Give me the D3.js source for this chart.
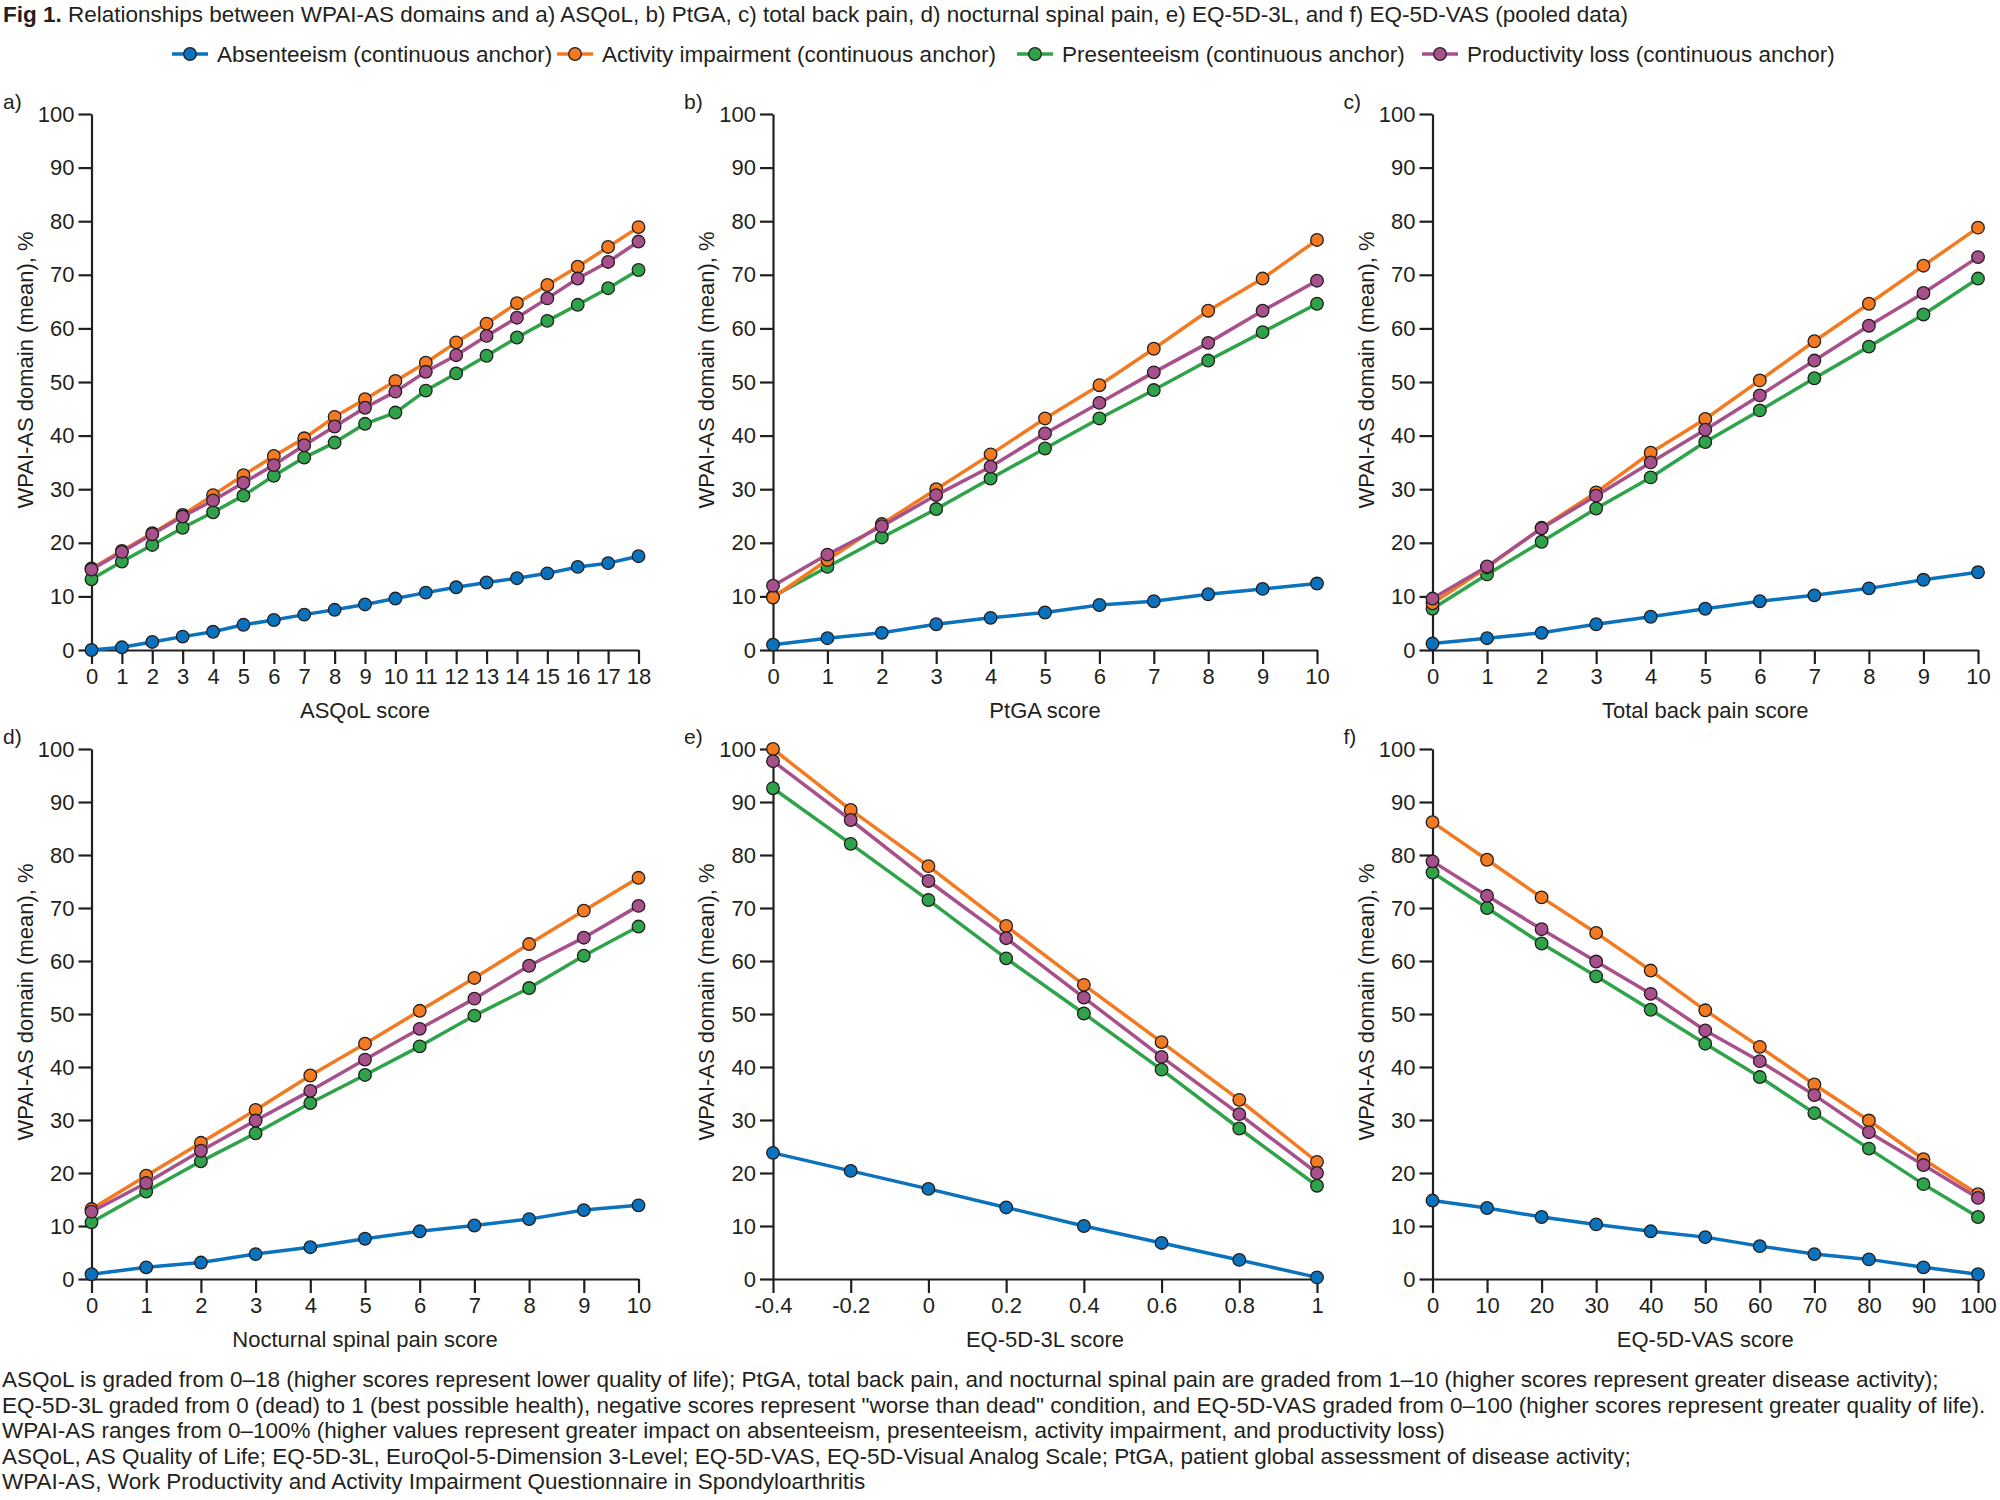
<!DOCTYPE html>
<html>
<head>
<meta charset="utf-8">
<script src="https://cdn.jsdelivr.net/npm/d3@7"></script>
<style>
  html, body { margin: 0; padding: 0; background: #fff; }
  svg { display: block; }
  text { font-family: "Liberation Sans", Arial, Helvetica, sans-serif; fill: #231f20; }
</style>
</head>
<body>
<svg id="chart" width="2000" height="1500"></svg>
<script>
// ---------------- DATA ----------------
const seriesNames = [
  "Absenteeism (continuous anchor)",
  "Activity impairment (continuous anchor)",
  "Presenteeism (continuous anchor)",
  "Productivity loss (continuous anchor)"
];
const seriesColors = ["#0b72bd", "#f47a21", "#2ea349", "#a8508b"];

const panelLabels = ["a)", "b)", "c)", "d)", "e)", "f)"];
const xTitles = ["ASQoL score", "PtGA score", "Total back pain score",
                 "Nocturnal spinal pain score", "EQ-5D-3L score", "EQ-5D-VAS score"];
const yTitle = "WPAI-AS domain (mean), %";
const yTicks = [0, 10, 20, 30, 40, 50, 60, 70, 80, 90, 100];

// a) ASQoL
const asqolX = [0,1,2,3,4,5,6,7,8,9,10,11,12,13,14,15,16,17,18];
const asqolAbs  = [0, 0.5, 1.5, 2.5, 3.4, 4.7, 5.6, 6.6, 7.5, 8.5, 9.6, 10.7, 11.7, 12.6, 13.4, 14.3, 15.5, 16.2, 17.5];
const asqolAct  = [15.2, 18.5, 21.8, 25.2, 28.9, 32.6, 36.2, 39.5, 43.5, 46.8, 50.2, 53.6, 57.4, 60.9, 64.7, 68.1, 71.5, 75.2, 78.9];
const asqolPres = [13.2, 16.5, 19.6, 22.8, 25.7, 28.8, 32.5, 35.9, 38.7, 42.2, 44.3, 48.4, 51.6, 54.9, 58.3, 61.4, 64.4, 67.5, 70.9];
const asqolProd = [15.0, 18.3, 21.6, 24.9, 27.9, 31.2, 34.5, 38.2, 41.7, 45.2, 48.2, 51.9, 55.0, 58.6, 62.0, 65.6, 69.3, 72.4, 76.2];

// b) PtGA
const ptgaX = [0,1,2,3,4,5,6,7,8,9,10];
const ptgaAbs  = [1.0, 2.2, 3.2, 4.8, 6.0, 7.0, 8.4, 9.1, 10.4, 11.4, 12.4];
const ptgaAct  = [9.8, 16.8, 23.5, 30.0, 36.5, 43.2, 49.4, 56.2, 63.3, 69.3, 76.5];
const ptgaPres = [10.0, 15.5, 21.0, 26.3, 32.0, 37.6, 43.2, 48.5, 54.0, 59.3, 64.6];
const ptgaProd = [12.0, 17.8, 23.1, 28.9, 34.2, 40.4, 46.1, 51.8, 57.3, 63.3, 68.9];

// c) Total back pain
const backX = [0,1,2,3,4,5,6,7,8,9,10];
const backAbs  = [1.2, 2.2, 3.2, 4.8, 6.2, 7.7, 9.1, 10.2, 11.5, 13.1, 14.5];
const backAct  = [8.7, 15.4, 22.8, 29.4, 36.8, 43.1, 50.3, 57.6, 64.6, 71.7, 78.8];
const backPres = [7.7, 14.1, 20.2, 26.4, 32.2, 38.8, 44.7, 50.7, 56.6, 62.6, 69.3];
const backProd = [9.6, 15.6, 22.7, 28.8, 35.0, 41.1, 47.5, 54.0, 60.5, 66.6, 73.3];

// d) Nocturnal spinal pain
const noctX = [0,1,2,3,4,5,6,7,8,9,10];
const noctAbs  = [0.9, 2.2, 3.1, 4.7, 6.0, 7.6, 9.0, 10.1, 11.3, 13.0, 13.9];
const noctAct  = [13.2, 19.5, 25.7, 31.9, 38.4, 44.4, 50.6, 56.8, 63.2, 69.5, 75.7];
const noctPres = [10.7, 16.5, 22.2, 27.5, 33.2, 38.5, 43.9, 49.7, 54.9, 61.0, 66.5];
const noctProd = [12.7, 18.1, 24.2, 29.9, 35.5, 41.4, 47.2, 52.9, 59.1, 64.4, 70.4];

// e) EQ-5D-3L
const eq3lX = [-0.4, -0.2, 0, 0.2, 0.4, 0.6, 0.8, 1];
const eq3lTickLabels = ["-0.4", "-0.2", "0", "0.2", "0.4", "0.6", "0.8", "1"];
const eq3lAbs  = [23.8, 20.4, 17.0, 13.5, 10.0, 6.8, 3.6, 0.3];
const eq3lAct  = [100, 88.5, 77.9, 66.6, 55.5, 44.7, 33.8, 22.1];
const eq3lPres = [92.6, 82.1, 71.5, 60.5, 50.1, 39.5, 28.4, 17.6];
const eq3lProd = [97.7, 86.6, 75.1, 64.3, 53.1, 41.9, 31.1, 20.0];

// f) EQ-5D-VAS
const vasX = [0,10,20,30,40,50,60,70,80,90,100];
const vasAbs  = [14.8, 13.4, 11.7, 10.3, 9.0, 7.9, 6.2, 4.7, 3.7, 2.2, 0.9];
const vasAct  = [86.2, 79.1, 72.0, 65.3, 58.2, 50.7, 43.8, 36.7, 29.9, 22.6, 16.0];
const vasPres = [76.7, 70.0, 63.3, 57.1, 50.8, 44.4, 38.1, 31.3, 24.6, 17.9, 11.7];
const vasProd = [78.8, 72.3, 66.0, 59.9, 53.8, 46.9, 41.1, 34.7, 27.7, 21.5, 15.3];

const titleBold = "Fig 1.";
const titleRest = " Relationships between WPAI-AS domains and a) ASQoL, b) PtGA, c) total back pain, d) nocturnal spinal pain, e) EQ-5D-3L, and f) EQ-5D-VAS (pooled data)";
const footnotes = [
  "ASQoL is graded from 0\u201318 (higher scores represent lower quality of life); PtGA, total back pain, and nocturnal spinal pain are graded from 1\u201310 (higher scores represent greater disease activity);",
  "EQ-5D-3L graded from 0 (dead) to 1 (best possible health), negative scores represent \"worse than dead\" condition, and EQ-5D-VAS graded from 0\u2013100 (higher scores represent greater quality of life).",
  "WPAI-AS ranges from 0\u2013100% (higher values represent greater impact on absenteeism, presenteeism, activity impairment, and productivity loss)",
  "ASQoL, AS Quality of Life; EQ-5D-3L, EuroQol-5-Dimension 3-Level; EQ-5D-VAS, EQ-5D-Visual Analog Scale; PtGA, patient global assessment of disease activity;",
  "WPAI-AS, Work Productivity and Activity Impairment Questionnaire in Spondyloarthritis"
];

// ---------------- PANEL TABLE ----------------
const panelData = [
  { x: asqolX, ticks: asqolX, labels: null, series: [asqolAbs, asqolAct, asqolPres, asqolProd] },
  { x: ptgaX,  ticks: ptgaX,  labels: null, series: [ptgaAbs, ptgaAct, ptgaPres, ptgaProd] },
  { x: backX,  ticks: backX,  labels: null, series: [backAbs, backAct, backPres, backProd] },
  { x: noctX,  ticks: noctX,  labels: null, series: [noctAbs, noctAct, noctPres, noctProd] },
  { x: eq3lX,  ticks: eq3lX,  labels: eq3lTickLabels, series: [eq3lAbs, eq3lAct, eq3lPres, eq3lProd] },
  { x: vasX,   ticks: vasX,   labels: null, series: [vasAbs, vasAct, vasPres, vasProd] }
];

// ---------------- LAYOUT ----------------
const colLeft  = [91.5, 773, 1432.5];
const colRight = [638.5, 1317, 1978];
const rowTop   = [114, 749];
const rowBot   = [650, 1279];
const INK = "#231f20";
const FS = 22;
const FS_TEXT = 22.5;

const svg = d3.select("#chart");
svg.append("rect").attr("width", 2000).attr("height", 1500).attr("fill", "#fff");

// Title
const title = svg.append("text").attr("x", 3).attr("y", 22).style("font-size", FS_TEXT + "px");
title.append("tspan").style("font-weight", "bold").text(titleBold);
title.append("tspan").text(titleRest);

// Legend
const legendStarts = [172, 557, 1017, 1422];
const legendY = 54;
const leg = svg.append("g");
seriesNames.forEach((name, i) => {
  const g = leg.append("g").attr("transform", `translate(${legendStarts[i]},${legendY})`);
  g.append("line").attr("x1", 0).attr("x2", 36).attr("y1", 0).attr("y2", 0)
    .attr("stroke", seriesColors[i]).attr("stroke-width", 3.5);
  g.append("circle").attr("cx", 18).attr("cy", 0).attr("r", 6.3)
    .attr("fill", seriesColors[i]).attr("stroke", INK).attr("stroke-width", 1.3);
  g.append("text").attr("x", 45).attr("y", 8).style("font-size", FS_TEXT + "px").text(name);
});

// Panels
panelData.forEach((p, idx) => {
  const col = idx % 3, row = Math.floor(idx / 3);
  const x = d3.scaleLinear().domain(d3.extent(p.x)).range([colLeft[col], colRight[col]]);
  const y = d3.scaleLinear().domain([0, 100]).range([rowBot[row], rowTop[row]]);
  const g = svg.append("g");

  // Y axis
  const yAxis = d3.axisLeft(y).tickValues(yTicks).tickSize(13).tickSizeOuter(0).tickPadding(4);
  const ya = g.append("g").attr("transform", `translate(${colLeft[col]},0)`).call(yAxis);
  // X axis
  const xAxis = d3.axisBottom(x).tickValues(p.ticks).tickSize(14).tickSizeOuter(0).tickPadding(4)
    .tickFormat((d, i) => p.labels ? p.labels[i] : String(d));
  const xa = g.append("g").attr("transform", `translate(0,${rowBot[row]})`).call(xAxis);

  [ya, xa].forEach(a => {
    a.select(".domain").attr("stroke", INK).attr("stroke-width", 2.2);
    a.selectAll(".tick line").attr("stroke", INK).attr("stroke-width", 2.2);
    a.selectAll(".tick text").style("font-size", FS + "px").attr("fill", INK)
      .style("font-family", '"Liberation Sans", Arial, Helvetica, sans-serif');
  });

  // Panel label
  g.append("text").attr("x", col === 0 ? 3 : colLeft[col] - 89).attr("y", rowTop[row] - 5)
    .style("font-size", "21px").text(panelLabels[idx]);

  // Y title
  const ymid = (rowTop[row] + rowBot[row]) / 2 - 12;
  g.append("text").attr("transform", `translate(${colLeft[col] - 59},${ymid}) rotate(-90)`)
    .attr("text-anchor", "middle").style("font-size", FS + "px").text(yTitle);

  // X title
  g.append("text").attr("x", (colLeft[col] + colRight[col]) / 2).attr("y", rowBot[row] + 68)
    .attr("text-anchor", "middle").style("font-size", FS + "px").text(xTitles[idx]);

  // Series
  const line = d3.line().x(d => x(d[0])).y(d => y(d[1]));
  const order = [0, 2, 1, 3];
  order.forEach(si => {
    const pts = p.x.map((xv, k) => [xv, p.series[si][k]]);
    const sg = g.append("g");
    sg.append("path").datum(pts).attr("d", line).attr("fill", "none")
      .attr("stroke", seriesColors[si]).attr("stroke-width", 3.5).attr("stroke-linejoin", "round");
    sg.selectAll("circle").data(pts).join("circle")
      .attr("cx", d => x(d[0])).attr("cy", d => y(d[1])).attr("r", 6.3)
      .attr("fill", seriesColors[si]).attr("stroke", INK).attr("stroke-width", 1.3);
  });
});

// Footnotes
const fnY0 = 1387, fnStep = 25.6;
footnotes.forEach((t, i) => {
  svg.append("text").attr("x", 2).attr("y", fnY0 + i * fnStep).style("font-size", "22.5px").text(t);
});
</script>
</body>
</html>
